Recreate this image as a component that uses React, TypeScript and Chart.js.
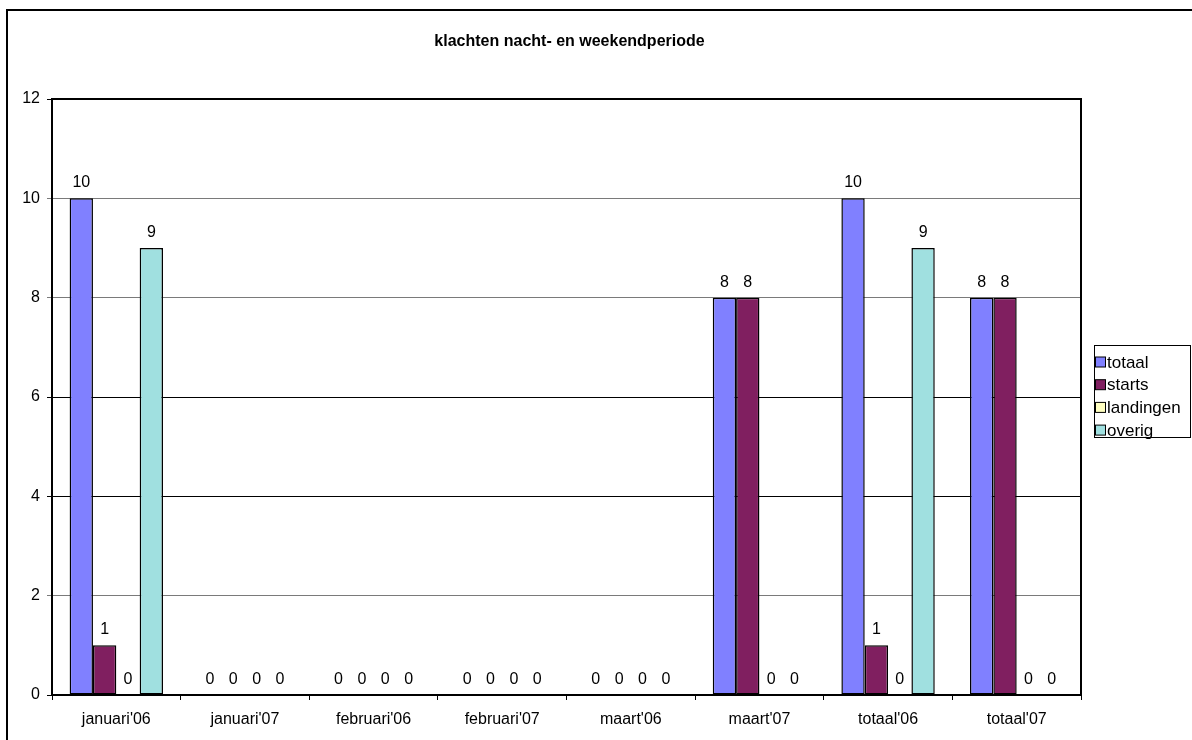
import React, { useEffect, useRef } from "react";
import { Chart, registerables } from "chart.js";

Chart.register(...registerables);

const title = "klachten nacht- en weekendperiode";
const categories = [
  "januari'06",
  "januari'07",
  "februari'06",
  "februari'07",
  "maart'06",
  "maart'07",
  "totaal'06",
  "totaal'07",
];
const totaal = [10, 0, 0, 0, 0, 8, 10, 8];
const starts = [1, 0, 0, 0, 0, 8, 1, 8];
const landingen = [0, 0, 0, 0, 0, 0, 0, 0];
const overig = [9, 0, 0, 0, 0, 0, 9, 0];
const seriesNames = ["totaal", "starts", "landingen", "overig"];
const seriesColors = ["#8080FF", "#801F60", "#FFFFC0", "#A0E0E0"];
const yTicks = [0, 2, 4, 6, 8, 10, 12];

const FONT = "Arial, 'Liberation Sans', sans-serif";

const decorPlugin = {
  id: "decor",
  afterDatasetsDraw(chart: any) {
    const ctx = chart.ctx;
    ctx.save();
    ctx.fillStyle = "#000";
    ctx.font = `16px ${FONT}`;
    ctx.textAlign = "center";
    ctx.textBaseline = "alphabetic";
    chart.data.datasets.forEach((ds: any, di: number) => {
      const meta = chart.getDatasetMeta(di);
      meta.data.forEach((el: any, i: number) => {
        const v = ds.data[i];
        ctx.fillText(String(v), el.x, el.y - 11);
      });
    });
    ctx.restore();
  },
  afterDraw(chart: any) {
    const ctx = chart.ctx;
    const a = chart.chartArea;
    ctx.save();
    // outer frame
    ctx.strokeStyle = "#000";
    ctx.lineWidth = 2;
    ctx.strokeRect(7, 10, 1400, 1000);
    // plot border
    ctx.lineWidth = 2;
    ctx.beginPath();
    ctx.moveTo(a.left, a.top);
    ctx.lineTo(a.right, a.top);
    ctx.lineTo(a.right, a.bottom);
    ctx.stroke();
    // title
    ctx.fillStyle = "#000";
    ctx.font = `bold 16px ${FONT}`;
    ctx.textAlign = "center";
    ctx.textBaseline = "middle";
    ctx.fillText(title, (a.left + a.right) / 2 + 3, 42);
    // legend
    const lx = 1094, ly = 345, lw = 96, lh = 92;
    ctx.lineWidth = 1;
    ctx.strokeRect(lx + 0.5, ly + 0.5, lw, lh);
    ctx.font = `17px ${FONT}`;
    ctx.textAlign = "left";
    ctx.textBaseline = "middle";
    seriesNames.forEach((name, i) => {
      const cy = 362 + i * 22.7;
      ctx.fillStyle = seriesColors[i];
      ctx.fillRect(lx + 1.5, cy - 5, 10, 10);
      ctx.strokeStyle = "#000";
      ctx.strokeRect(lx + 1.5, cy - 5, 10, 10);
      ctx.fillStyle = "#000";
      ctx.fillText(name, lx + 13, cy + 1);
    });
    ctx.restore();
  },
};

export default function App() {
  const ref = useRef<HTMLCanvasElement>(null);
  useEffect(() => {
    document.body.style.margin = "0";
    const datasets = [totaal, starts, landingen, overig].map((d, i) => ({
      label: seriesNames[i],
      data: d,
      backgroundColor: seriesColors[i],
      borderColor: "#000",
      borderWidth: 1.5,
      borderSkipped: false,
    }));
    const chart = new Chart(ref.current!, {
      type: "bar",
      data: { labels: categories, datasets },
      plugins: [decorPlugin],
      options: {
        responsive: false,
        animation: false,
        devicePixelRatio: 1,
        layout: { padding: { left: 8, top: 99, right: 111, bottom: 0 } },
        datasets: {
          bar: { categoryPercentage: 0.726, barPercentage: 1 },
        },
        plugins: {
          legend: { display: false },
          title: { display: false },
          tooltip: { enabled: false },
        },
        scales: {
          x: {
            offset: true,
            afterFit: (s: any) => {
              s.height = 45;
            },
            grid: {
              offset: true,
              drawOnChartArea: false,
              drawTicks: true,
              tickLength: 5,
              color: "#000",
              lineWidth: 1,
            },
            border: { color: "#000", width: 2 },
            ticks: {
              color: "#000",
              font: { family: FONT, size: 16 },
              padding: 10,
              maxRotation: 0,
              autoSkip: false,
            },
          },
          y: {
            min: 0,
            max: 12,
            afterBuildTicks: (s: any) => {
              s.ticks = yTicks.map((v) => ({ value: v }));
            },
            afterFit: (s: any) => {
              s.width = 44;
            },
            grid: {
              drawTicks: true,
              tickLength: 5,
              color: (c: any) => {
                const v = c.tick ? c.tick.value : 0;
                return v === 2 || v === 8 || v === 10 ? "#7a7a7a" : "#000";
              },
              lineWidth: 1,
            },
            border: { color: "#000", width: 2 },
            ticks: {
              color: "#000",
              font: { family: FONT, size: 16 },
              padding: 7,
            },
          },
        },
      },
    });
    return () => chart.destroy();
  }, []);
  return (
    <div style={{ position: "absolute", left: 0, top: 0, width: 1192, height: 740, background: "#fff" }}>
      <canvas ref={ref} width={1192} height={740} />
    </div>
  );
}
